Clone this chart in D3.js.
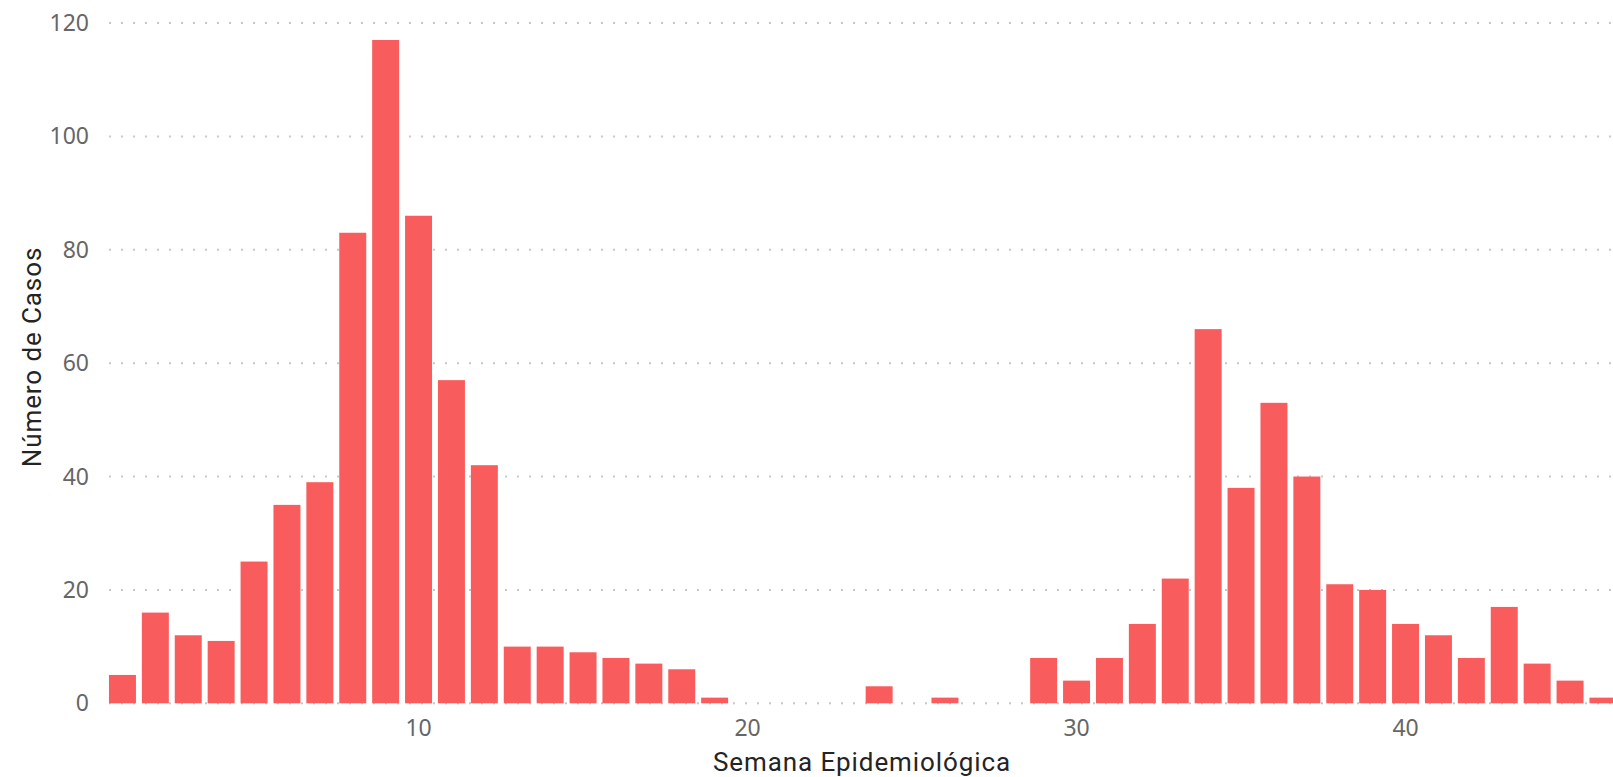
<!DOCTYPE html>
<html lang="es">
<head>
    <meta charset="UTF-8">
    <title>Casos por semana</title>
    <script src="https://d3js.org/d3.v7.min.js"></script>
    <style>
        body { margin: 0; background: #fff; }
        .tick-label { font-family: "Noto Sans", "Open Sans", sans-serif; font-size: 23px; fill: #666; }
        .axis-title { font-family: Roboto, "DejaVu Sans", sans-serif; font-size: 26px; letter-spacing: 0.9px; fill: #252423; }
    </style>
</head>
<body>
<div id="chart"></div>
<script>

    // semanas epidemiologicas y numero de casos
    var weeks = [1, 2, 3, 4, 5, 6, 7, 8, 9, 10, 11, 12, 13, 14, 15, 16, 17, 18, 19, 20, 21, 22, 23,
        24, 25, 26, 27, 28, 29, 30, 31, 32, 33, 34, 35, 36, 37, 38, 39, 40, 41, 42, 43, 44, 45, 46];
    var cases = [5, 16, 12, 11, 25, 35, 39, 83, 117, 86, 57, 42, 10, 10, 9, 8, 7, 6, 1, 0, 0, 0, 0,
        3, 0, 1, 0, 0, 8, 4, 8, 14, 22, 66, 38, 53, 40, 21, 20, 14, 12, 8, 17, 7, 4, 1];
    var xTicks = [10, 20, 30, 40];
    var yTicks = [0, 20, 40, 60, 80, 100, 120];

    var width = 1613, height = 777;
    var step = 32.9;
    var left = 106;

    var svg = d3.select("#chart").append("svg")
        .attr("width", width)
        .attr("height", height);

    var x = d3.scaleLinear().domain([0.5, 46.5]).range([left, left + 46 * step]);
    var y = d3.scaleLinear().domain([0, 120]).range([703.3, 23]);
    var barW = step * 0.82;

    // dotted gridlines
    svg.append("g").selectAll("line")
        .data(yTicks)
        .enter().append("line")
        .attr("x1", 109)
        .attr("x2", width)
        .attr("y1", function (d) { return y(d); })
        .attr("y2", function (d) { return y(d); })
        .attr("stroke", "#c8c8c8")
        .attr("stroke-width", 2)
        .attr("stroke-dasharray", "2,10");

    svg.append("g").selectAll("text")
        .data(yTicks)
        .enter().append("text")
        .attr("class", "tick-label")
        .attr("x", 89)
        .attr("y", function (d) { return y(d); })
        .attr("dy", "0.35em")
        .attr("text-anchor", "end")
        .text(function (d) { return d; });

    // bars
    svg.append("g").selectAll("rect")
        .data(weeks)
        .enter().append("rect")
        .attr("x", function (d) { return x(d) - barW / 2; })
        .attr("width", barW)
        .attr("y", function (d, i) { return y(cases[i]); })
        .attr("height", function (d, i) { return y(0) - y(cases[i]); })
        .attr("fill", "#f95c5c");

    svg.append("g").selectAll("text")
        .data(xTicks)
        .enter().append("text")
        .attr("class", "tick-label")
        .attr("x", function (d) { return x(d); })
        .attr("y", 736)
        .attr("text-anchor", "middle")
        .text(function (d) { return d; });

    svg.append("text")
        .attr("class", "axis-title")
        .attr("x", 862)
        .attr("y", 771)
        .attr("text-anchor", "middle")
        .text("Semana Epidemiológica");

    svg.append("text")
        .attr("class", "axis-title")
        .attr("transform", "translate(41,357) rotate(-90)")
        .attr("text-anchor", "middle")
        .text("Número de Casos");

</script>
</body>
</html>
